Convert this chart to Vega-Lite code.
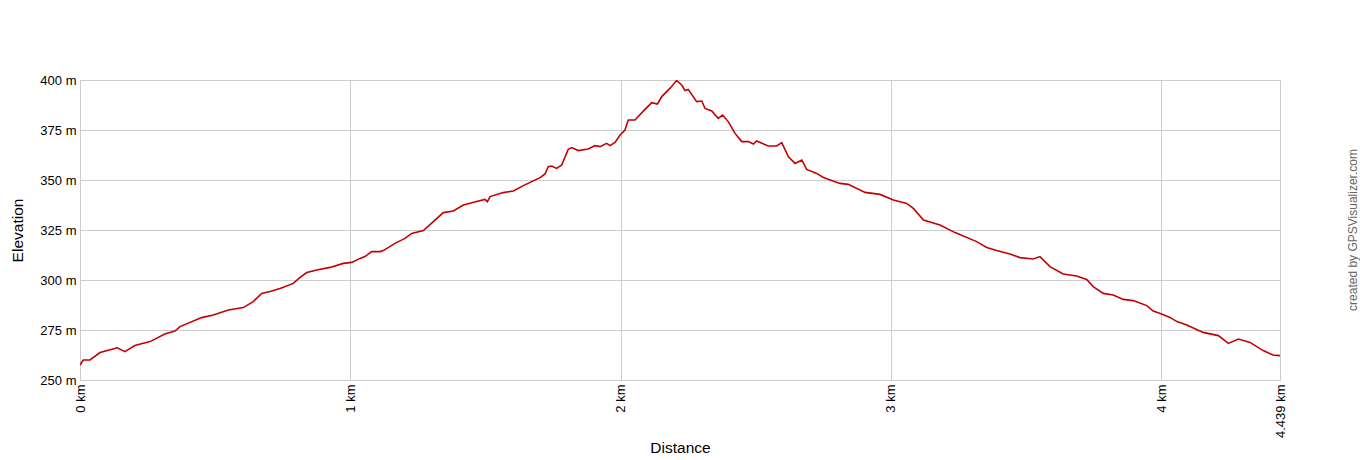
{
  "$schema": "https://vega.github.io/schema/vega-lite/v6.json",
  "autosize": "none",
  "width": 1200,
  "height": 300,
  "padding": {"left": 80, "top": 80, "right": 80, "bottom": 80},
  "background": "white",
  "title": {
    "text": "created by GPSVisualizer.com",
    "orient": "right",
    "anchor": "middle",
    "angle": -90,
    "offset": 49,
    "font": "Liberation Sans",
    "fontSize": 12,
    "fontWeight": "normal",
    "color": "#666666"
  },
  "config": {
    "view": {"stroke": null},
    "axis": {
      "labelFont": "Liberation Sans",
      "titleFont": "Liberation Sans",
      "labelFontSize": 13,
      "titleFontSize": 15.5,
      "titleFontWeight": "normal",
      "labelColor": "#000000",
      "titleColor": "#000000",
      "gridColor": "#cccccc",
      "gridOpacity": 1,
      "domainColor": "#cccccc",
      "ticks": false
    }
  },
  "data": {
    "values": [
      {"km": 0, "ele": 257.5},
      {"km": 0.012, "ele": 260},
      {"km": 0.037, "ele": 260},
      {"km": 0.074, "ele": 263.7},
      {"km": 0.129, "ele": 265.8},
      {"km": 0.136, "ele": 266.2},
      {"km": 0.166, "ele": 264.2},
      {"km": 0.203, "ele": 267.2},
      {"km": 0.259, "ele": 269.2},
      {"km": 0.314, "ele": 273},
      {"km": 0.351, "ele": 274.5},
      {"km": 0.37, "ele": 276.7},
      {"km": 0.45, "ele": 281.2},
      {"km": 0.493, "ele": 282.5},
      {"km": 0.549, "ele": 285},
      {"km": 0.604, "ele": 286.2},
      {"km": 0.641, "ele": 289.2},
      {"km": 0.672, "ele": 293.3},
      {"km": 0.703, "ele": 294.2},
      {"km": 0.74, "ele": 295.8},
      {"km": 0.789, "ele": 298.3},
      {"km": 0.814, "ele": 301.3},
      {"km": 0.839, "ele": 303.7},
      {"km": 0.876, "ele": 305},
      {"km": 0.925, "ele": 306.3},
      {"km": 0.974, "ele": 308.3},
      {"km": 1.005, "ele": 308.8},
      {"km": 1.036, "ele": 310.8},
      {"km": 1.054, "ele": 311.7},
      {"km": 1.079, "ele": 314.2},
      {"km": 1.11, "ele": 314.2},
      {"km": 1.122, "ele": 314.7},
      {"km": 1.165, "ele": 318.3},
      {"km": 1.202, "ele": 320.8},
      {"km": 1.227, "ele": 323.3},
      {"km": 1.27, "ele": 324.7},
      {"km": 1.307, "ele": 329.2},
      {"km": 1.344, "ele": 333.7},
      {"km": 1.381, "ele": 334.5},
      {"km": 1.418, "ele": 337.5},
      {"km": 1.467, "ele": 339.2},
      {"km": 1.498, "ele": 340.3},
      {"km": 1.507, "ele": 339.2},
      {"km": 1.517, "ele": 341.7},
      {"km": 1.566, "ele": 343.7},
      {"km": 1.603, "ele": 344.5},
      {"km": 1.64, "ele": 347.2},
      {"km": 1.702, "ele": 351.2},
      {"km": 1.72, "ele": 353},
      {"km": 1.732, "ele": 356.7},
      {"km": 1.745, "ele": 357},
      {"km": 1.763, "ele": 355.8},
      {"km": 1.782, "ele": 357.5},
      {"km": 1.806, "ele": 365.3},
      {"km": 1.819, "ele": 366.2},
      {"km": 1.843, "ele": 364.7},
      {"km": 1.88, "ele": 365.5},
      {"km": 1.905, "ele": 367.2},
      {"km": 1.924, "ele": 366.7},
      {"km": 1.948, "ele": 368.3},
      {"km": 1.961, "ele": 367.2},
      {"km": 1.979, "ele": 368.8},
      {"km": 1.998, "ele": 372.5},
      {"km": 2.016, "ele": 375},
      {"km": 2.028, "ele": 380},
      {"km": 2.053, "ele": 380},
      {"km": 2.09, "ele": 385.3},
      {"km": 2.115, "ele": 388.7},
      {"km": 2.136, "ele": 388},
      {"km": 2.152, "ele": 391.7},
      {"km": 2.182, "ele": 395.8},
      {"km": 2.207, "ele": 399.7},
      {"km": 2.226, "ele": 397.5},
      {"km": 2.238, "ele": 394.7},
      {"km": 2.25, "ele": 395.3},
      {"km": 2.281, "ele": 389.2},
      {"km": 2.3, "ele": 389.5},
      {"km": 2.312, "ele": 385.8},
      {"km": 2.337, "ele": 384.5},
      {"km": 2.361, "ele": 380.8},
      {"km": 2.377, "ele": 382.5},
      {"km": 2.398, "ele": 379.2},
      {"km": 2.423, "ele": 373.3},
      {"km": 2.448, "ele": 369.2},
      {"km": 2.472, "ele": 369.2},
      {"km": 2.491, "ele": 368},
      {"km": 2.503, "ele": 369.5},
      {"km": 2.546, "ele": 367},
      {"km": 2.577, "ele": 367},
      {"km": 2.596, "ele": 368.7},
      {"km": 2.62, "ele": 361.7},
      {"km": 2.645, "ele": 358.3},
      {"km": 2.67, "ele": 360},
      {"km": 2.688, "ele": 355.3},
      {"km": 2.725, "ele": 353.3},
      {"km": 2.75, "ele": 351.3},
      {"km": 2.811, "ele": 348.3},
      {"km": 2.842, "ele": 347.8},
      {"km": 2.904, "ele": 343.8},
      {"km": 2.959, "ele": 342.8},
      {"km": 3.009, "ele": 340},
      {"km": 3.058, "ele": 338.3},
      {"km": 3.083, "ele": 335.8},
      {"km": 3.12, "ele": 330},
      {"km": 3.181, "ele": 327.5},
      {"km": 3.237, "ele": 323.7},
      {"km": 3.317, "ele": 319.2},
      {"km": 3.354, "ele": 316.3},
      {"km": 3.391, "ele": 314.7},
      {"km": 3.44, "ele": 313},
      {"km": 3.477, "ele": 311.2},
      {"km": 3.526, "ele": 310.5},
      {"km": 3.551, "ele": 311.7},
      {"km": 3.588, "ele": 306.7},
      {"km": 3.637, "ele": 303},
      {"km": 3.687, "ele": 302},
      {"km": 3.724, "ele": 300.3},
      {"km": 3.748, "ele": 296.7},
      {"km": 3.785, "ele": 293.3},
      {"km": 3.822, "ele": 292.5},
      {"km": 3.859, "ele": 290.3},
      {"km": 3.896, "ele": 289.7},
      {"km": 3.946, "ele": 287.2},
      {"km": 3.97, "ele": 284.5},
      {"km": 4.001, "ele": 283},
      {"km": 4.032, "ele": 281.3},
      {"km": 4.058, "ele": 279.2},
      {"km": 4.094, "ele": 277.5},
      {"km": 4.155, "ele": 273.8},
      {"km": 4.211, "ele": 272.2},
      {"km": 4.248, "ele": 268.3},
      {"km": 4.285, "ele": 270.5},
      {"km": 4.328, "ele": 268.8},
      {"km": 4.377, "ele": 264.7},
      {"km": 4.413, "ele": 262.5},
      {"km": 4.439, "ele": 262.2}
    ]
  },
  "mark": {"type": "line", "color": "#c40000", "strokeWidth": 1.6, "clip": true},
  "encoding": {
    "x": {
      "field": "km",
      "type": "quantitative",
      "title": "Distance",
      "scale": {"domain": [0, 4.439], "nice": false, "zero": false},
      "axis": {
        "values": [0, 1, 2, 3, 4, 4.439],
        "labelExpr": "datum.value + ' km'",
        "labelAngle": -90,
        "labelPadding": 4,
        "labelFlush": false,
        "labelOverlap": false,
        "titlePadding": 3
      }
    },
    "y": {
      "field": "ele",
      "type": "quantitative",
      "title": "Elevation",
      "scale": {"domain": [250, 400], "nice": false, "zero": false},
      "axis": {
        "values": [250, 275, 300, 325, 350, 375, 400],
        "labelExpr": "datum.value + ' m'",
        "labelPadding": 4,
        "titlePadding": 14
      }
    }
  }
}
